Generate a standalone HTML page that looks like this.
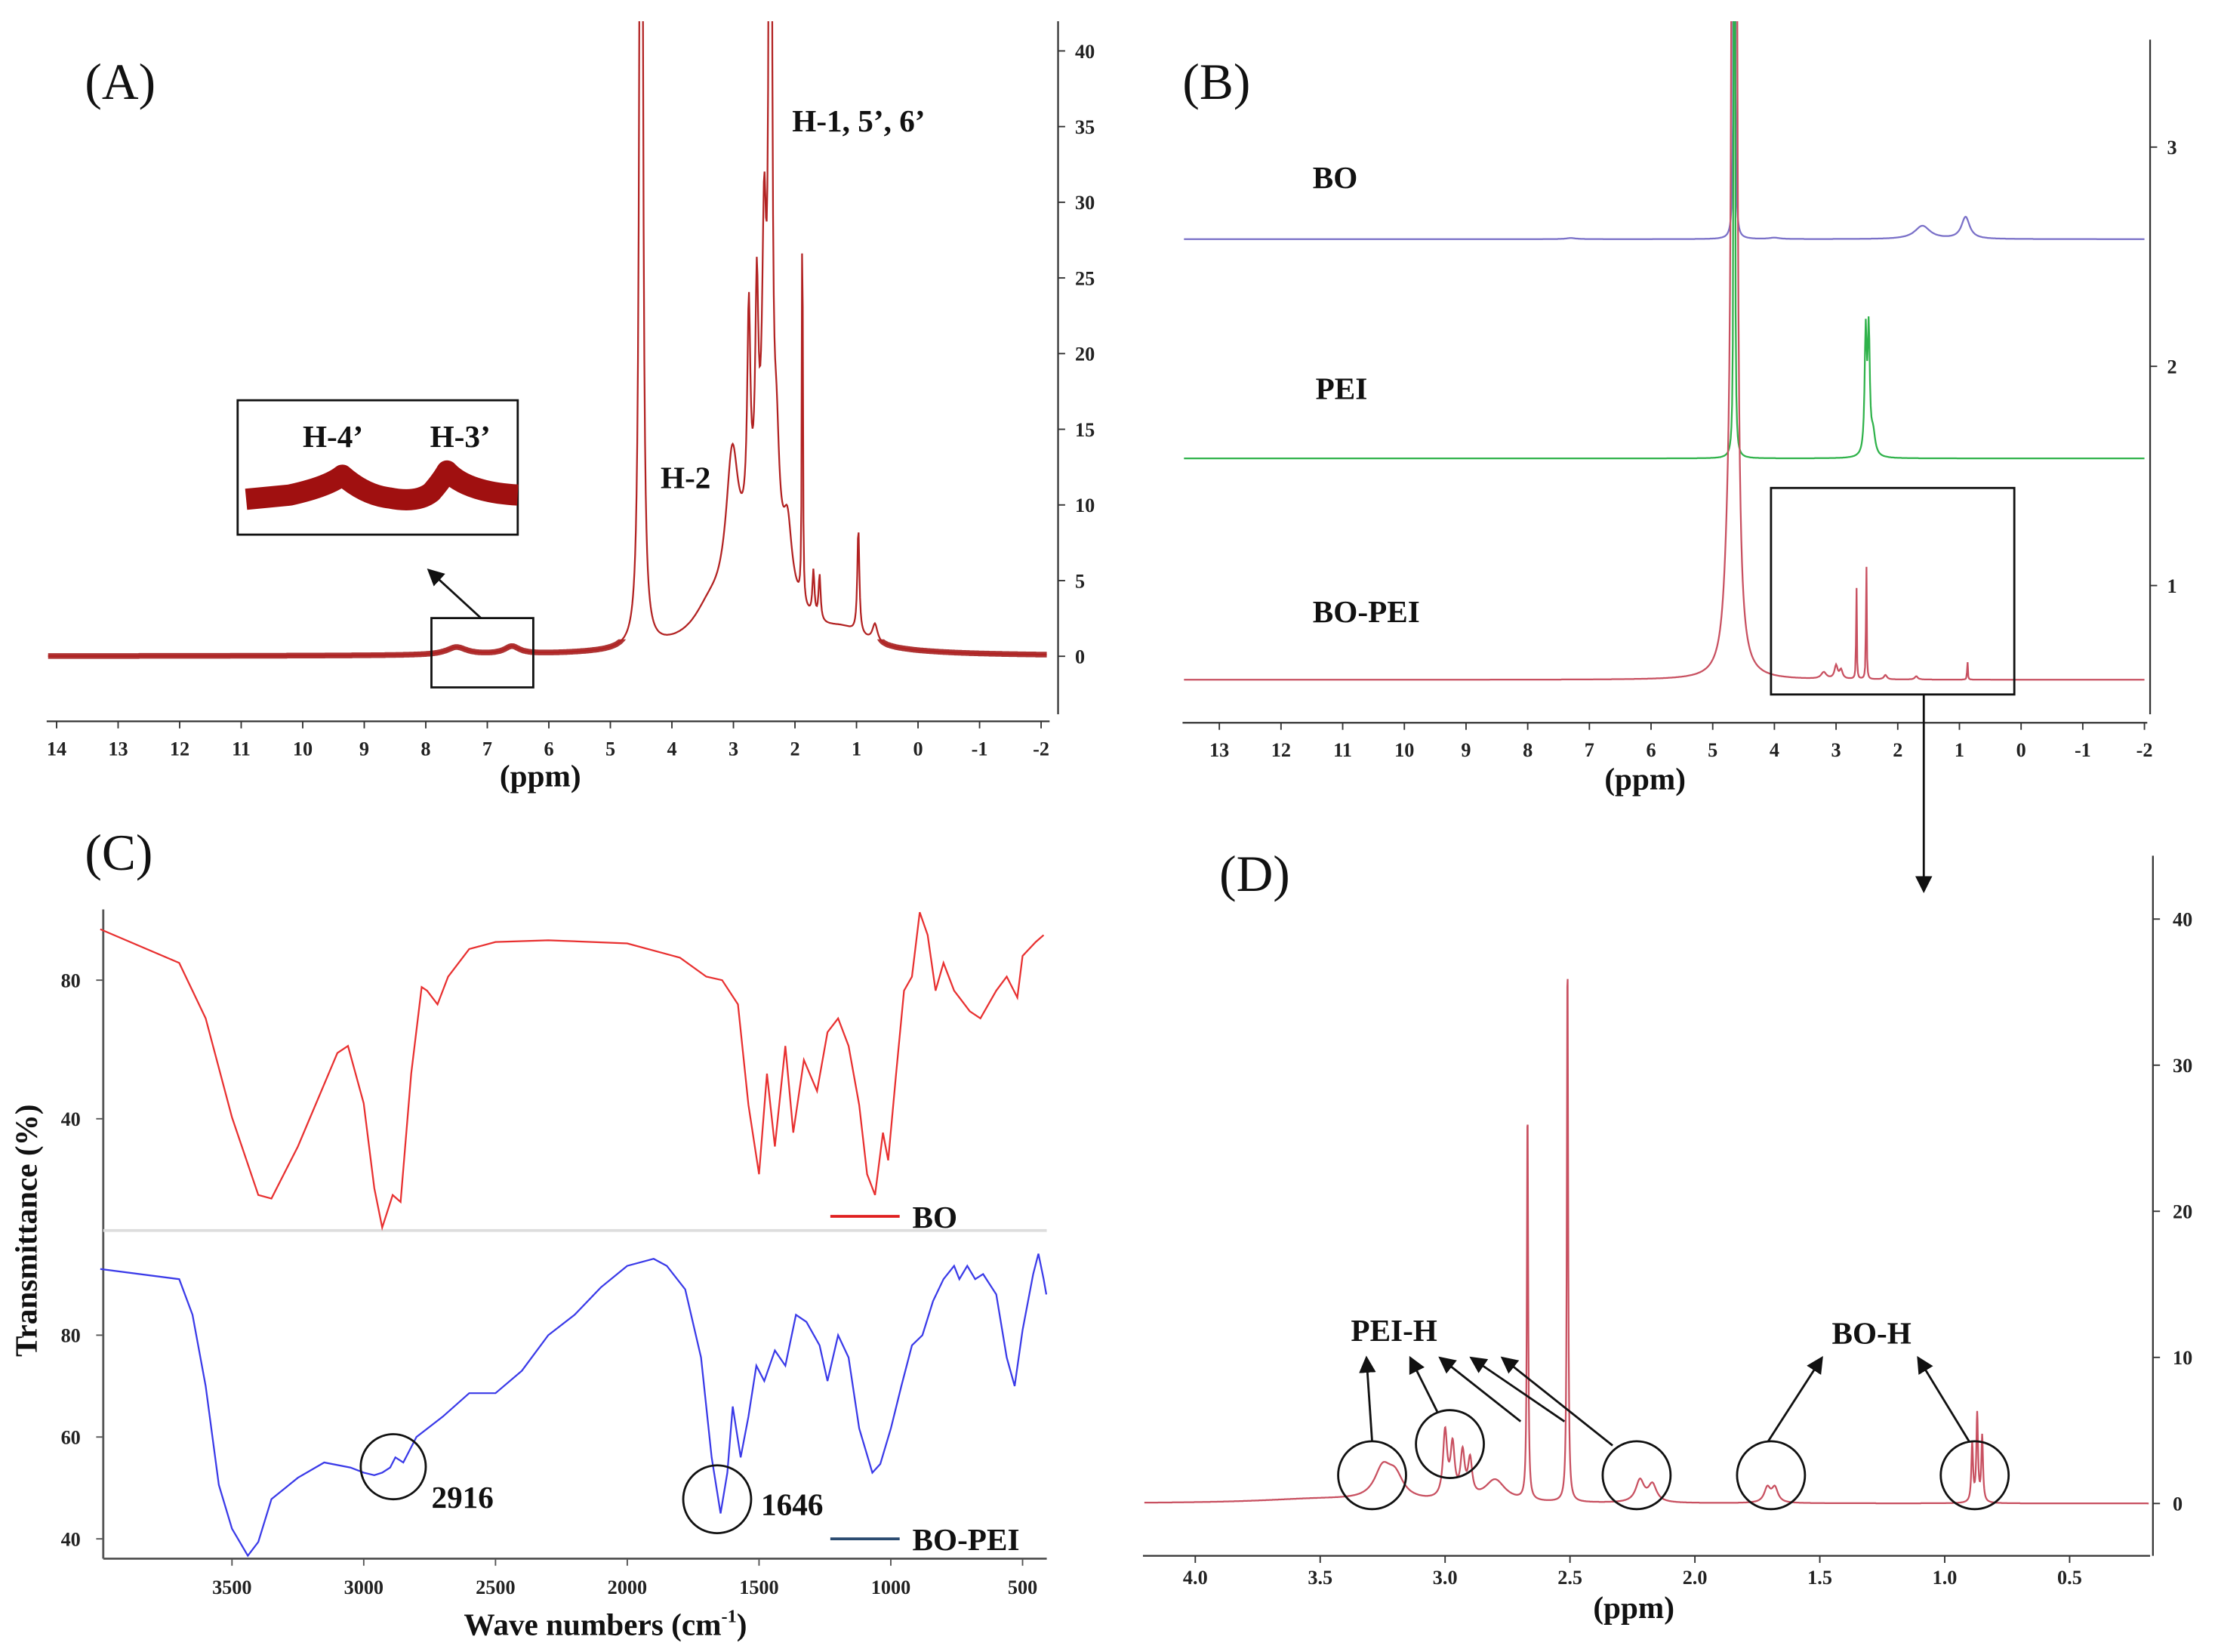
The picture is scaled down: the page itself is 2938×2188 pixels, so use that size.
<!DOCTYPE html>
<html><head><meta charset="utf-8"><style>
html,body{margin:0;padding:0;background:#fff;}
svg{display:block;}
text{font-family:"Liberation Serif",serif;}
.t{font-weight:bold;font-size:14px;fill:#222;}
.lb{font-weight:bold;font-size:22px;fill:#111;}
.pl{font-size:36px;fill:#111;}
</style></head><body>
<svg id="fig" width="2938" height="2188" viewBox="0 0 1568 1168" preserveAspectRatio="none" xmlns="http://www.w3.org/2000/svg">
<defs>
<clipPath id="clipA"><rect x="30" y="15" width="720" height="495"/></clipPath>
<clipPath id="clipBand"><rect x="30" y="452" width="720" height="26"/></clipPath>
<clipPath id="clipB"><rect x="836" y="15" width="684" height="495"/></clipPath>
<clipPath id="clipD"><rect x="808" y="600" width="714" height="500"/></clipPath>
<marker id="ah" markerWidth="8" markerHeight="8" refX="7" refY="4" orient="auto"><path d="M0,0 L8,4 L0,8 z" fill="#111"/></marker>
</defs>
<g id="gA"></g>
<g id="gB"></g>
<g id="gC"></g>
<g id="gD"></g>

<text class="pl" x="60" y="70">(A)</text>
<text class="pl" x="836" y="70">(B)</text>
<text class="pl" x="60" y="615">(C)</text>
<text class="pl" x="862" y="630">(D)</text>

<text class="lb" x="560" y="93">H-1, 5’, 6’</text>
<text class="lb" x="467" y="345">H-2</text>
<rect x="168" y="283" width="198" height="95" fill="none" stroke="#111" stroke-width="1.5"/>
<text class="lb" x="214" y="316">H-4’</text>
<text class="lb" x="304" y="316">H-3’</text>
<path d="M174,353 L205,350 Q232,344 242,336 Q258,350 275,352 Q295,356 305,348 Q312,340 316,333 Q330,348 366,350" fill="none" stroke="#a01010" stroke-width="15" stroke-linejoin="round"/>
<rect x="305" y="437" width="72" height="49" fill="none" stroke="#111" stroke-width="1.5"/>
<line x1="340" y1="437" x2="303" y2="403" stroke="#111" stroke-width="1.5" marker-end="url(#ah)"/>

<text class="lb" x="928" y="133">BO</text>
<text class="lb" x="930" y="282">PEI</text>
<text class="lb" x="928" y="440">BO-PEI</text>
<rect x="1252" y="345" width="172" height="146" fill="none" stroke="#111" stroke-width="1.5"/>
<line x1="1360" y1="491" x2="1360" y2="630" stroke="#111" stroke-width="1.5" marker-end="url(#ah)"/>

<line x1="587" y1="860" x2="636" y2="860" stroke="#e02020" stroke-width="2"/>
<text class="lb" x="645" y="868">BO</text>
<line x1="587" y1="1088" x2="636" y2="1088" stroke="#2a4a70" stroke-width="2"/>
<text class="lb" x="645" y="1096">BO-PEI</text>
<circle cx="278" cy="1037" r="23" fill="none" stroke="#111" stroke-width="1.5"/>
<circle cx="507" cy="1060" r="24" fill="none" stroke="#111" stroke-width="1.5"/>
<text class="lb" x="305" y="1066" font-size="20">2916</text>
<text class="lb" x="538" y="1071" font-size="20">1646</text>
<text class="lb" transform="translate(26,870) rotate(-90)" text-anchor="middle" font-size="23">Transmittance  (%)</text>
<text class="lb" x="428" y="1156" text-anchor="middle">Wave numbers (cm<tspan font-size="13" dy="-9">-1</tspan><tspan dy="9">)</tspan></text>

<text class="lb" x="382" y="556" text-anchor="middle">(ppm)</text>
<text class="lb" x="1163" y="558" text-anchor="middle">(ppm)</text>
<text class="lb" x="1155" y="1144" text-anchor="middle">(ppm)</text>

<g fill="none" stroke="#111" stroke-width="1.5">
<circle cx="970" cy="1043" r="24"/><circle cx="1025" cy="1021" r="24"/><circle cx="1157" cy="1043" r="24"/><circle cx="1252" cy="1043" r="24"/><circle cx="1396" cy="1043" r="24"/>
<line x1="970" y1="1019" x2="966" y2="960" marker-end="url(#ah)"/>
<line x1="1016" y1="998" x2="997" y2="960" marker-end="url(#ah)"/>
<line x1="1075" y1="1005" x2="1018" y2="960" marker-end="url(#ah)"/>
<line x1="1106" y1="1005" x2="1040" y2="960" marker-end="url(#ah)"/>
<line x1="1140" y1="1022" x2="1062" y2="960" marker-end="url(#ah)"/>
<line x1="1250" y1="1019" x2="1288" y2="960" marker-end="url(#ah)"/>
<line x1="1392" y1="1019" x2="1356" y2="960" marker-end="url(#ah)"/>
</g>
<text class="lb" x="955" y="948">PEI-H</text>
<text class="lb" x="1295" y="950">BO-H</text>
</svg>
<script>
const aPeakPpm =   [4.50, 3.02, 2.75, 2.62, 2.50, 2.40, 2.30, 2.12, 1.88, 1.70, 1.60, 0.97, 0.70, 1.20, 3.40, 2.55, 7.5, 6.6];
const aPeakHeight =[100,  9,    14,   14,   18,   100,  6,    4,    32,   3,    3,    7,    1.2,  1.0,  1.5,  8,    0.5, 0.5];
const aPeakWidth = [0.025,0.12, 0.03, 0.03, 0.04, 0.02, 0.05, 0.08, 0.008,0.02, 0.02, 0.02, 0.05, 0.4,  0.3,  0.45, 0.2, 0.15];
const aTicksX = [14,13,12,11,10,9,8,7,6,5,4,3,2,1,0,-1,-2];
const aTicksY = [0,5,10,15,20,25,30,35,40];
const boPpm = [4.65, 1.60, 0.90, 7.3, 4.0];
const boH =   [20,   0.06, 0.10, 0.005, 0.006];
const boW =   [0.004,0.15, 0.08, 0.1, 0.1];
const peiPpm = [4.65, 2.52, 2.47, 2.40];
const peiH =   [20,   0.55, 0.55, 0.1];
const peiW =   [0.004,0.02, 0.02, 0.04];
const bopPpm = [4.65, 4.75, 3.20, 3.00, 2.92, 2.67, 2.51, 2.20, 1.70, 0.87];
const bopH =   [20,   0.3,  0.03, 0.06, 0.04, 0.49, 0.65, 0.02, 0.015, 0.1];
const bopW =   [0.02, 0.08, 0.05, 0.03, 0.03, 0.006,0.006,0.03, 0.03, 0.006];
const bOffsets = [2.58, 1.58, 0.57];
const bTicksX = [13,12,11,10,9,8,7,6,5,4,3,2,1,0,-1,-2];
const bTicksY = [1,2,3];
const boWn = [4000,3700,3600,3500,3400,3350,3250,3100,3060,3000,2960,2930,2890,2860,2820,2780,2760,2720,2680,2600,2500,2300,2000,1800,1700,1640,1580,1540,1500,1470,1440,1400,1370,1330,1280,1240,1200,1160,1120,1090,1060,1030,1010,980,950,920,890,860,830,800,760,700,660,600,560,520,500,450,420];
const boT =  [94.7,85,69,40.4,18,17,32,59,61,44.5,20,8.6,18,16,53,78,77,73,81,89,91,91.5,90.6,86.5,81,80,73,44,24,53,32,61,36,57,48,65,69,61,44,24,18,36,28,53,77,81,99.6,93,77,85,77,71,69,77,81,75,87,91,93];
const bopWn = [4000,3700,3650,3600,3550,3500,3440,3400,3350,3250,3150,3050,3000,2960,2930,2900,2880,2850,2800,2700,2600,2500,2400,2300,2200,2100,2000,1900,1850,1780,1720,1680,1646,1620,1600,1570,1540,1510,1480,1440,1400,1360,1320,1270,1240,1200,1160,1120,1070,1040,1000,960,920,880,840,800,760,740,710,680,650,600,560,530,500,460,440,420,410];
const bopT =  [93,91,84,70,50.6,42,36.7,39.4,47.8,52,55,54,53,52.5,53,54,56,55,60,64,68.6,68.6,73,80,84,89.4,93.6,95,93.6,89,75.6,56,45,53,66,56,64,74,71,77,74,84,82.6,78,71,80,75.6,61.7,53,54.7,61.7,70,78,80,86.7,91,93.6,91,93.6,91,92,88,75.6,70,81,92,96,91,88];
const cTicksX = [3500,3000,2500,2000,1500,1000,500];
const cTicksTop = [40,80];
const cTicksBot = [40,60,80];
const dPpm = [3.25,3.20,3.00,2.97,2.93,2.90,2.80,2.67,2.51,2.22,2.17,1.71,1.68,0.89,0.87,0.85,3.5];
const dH =   [2.0, 1.5, 4.5, 3.5, 3.0, 2.5, 1.5, 27,  37.5,1.5, 1.2, 1.0, 1.0, 4.0, 6.0, 4.5, 0.3];
const dW =   [0.04,0.04,0.01,0.01,0.01,0.01,0.05,0.003,0.003,0.02,0.02,0.015,0.015,0.004,0.004,0.004,0.3];
const dTicksX = [4.0,3.5,3.0,2.5,2.0,1.5,1.0,0.5];
const dTicksY = [0,10,20,30,40];

const NS = "http://www.w3.org/2000/svg";
function mk(tag, attrs, parent){const e=document.createElementNS(NS,tag);for(const k in attrs)e.setAttribute(k,attrs[k]);parent.appendChild(e);return e;}
function spec(ppm, P, H, W){let s=0;for(let i=0;i<P.length;i++){const d=(ppm-P[i])/W[i];s+=H[i]/(1+d*d);}return s;}
function txt(parent,x,y,s,anchor){const t=mk('text',{x:x,y:y,'class':'t','text-anchor':anchor||'middle'},parent);t.textContent=s;return t;}

(function(){
const g=document.getElementById('gA');
const xA=p=>40+(14-p)*43.5, yA=v=>464-v*10.7;
const ax=mk('line',{x1:33,y1:510,x2:742,y2:510,stroke:'#333','stroke-width':1.2},g);


const ay=mk('line',{x1:748,y1:15,x2:748,y2:505,stroke:'#333','stroke-width':1.2},g);


aTicksX.forEach(v=>{mk('line',{x1:xA(v),y1:510,x2:xA(v),y2:515,stroke:'#333'},g);const t=txt(g,xA(v),534,v);});
aTicksY.forEach(v=>{mk('line',{x1:748,y1:yA(v),x2:753,y2:yA(v),stroke:'#333'},g);const t=txt(g,760,yA(v)+5,v,'start');});
let d='';for(let px=34;px<=740;px+=0.5){const p=14-(px-40)/43.5;d+=(d?'L':'M')+px+','+yA(spec(p,aPeakPpm,aPeakHeight,aPeakWidth)).toFixed(1);}
const band=mk('path',{d:d,fill:'none',stroke:'#a01010','stroke-width':4,opacity:0.85,'clip-path':'url(#clipBand)'},g);


const path=mk('path',{d:d,fill:'none',stroke:'#b22222','stroke-width':1.2,'clip-path':'url(#clipA)'},g);


})();

(function(){
const g=document.getElementById('gB');
const xB=p=>862+(13-p)*43.6, yB=v=>414-(v-1)*155;
const ax=mk('line',{x1:836,y1:511,x2:1518,y2:511,stroke:'#333','stroke-width':1.2},g);


const ay=mk('line',{x1:1520,y1:28,x2:1520,y2:505,stroke:'#333','stroke-width':1.2},g);


bTicksX.forEach(v=>{mk('line',{x1:xB(v),y1:511,x2:xB(v),y2:516,stroke:'#333'},g);const t=txt(g,xB(v),535,v);});
bTicksY.forEach(v=>{mk('line',{x1:1520,y1:yB(v),x2:1525,y2:yB(v),stroke:'#333'},g);const t=txt(g,1532,yB(v)+5,v,'start');});
const sets=[[boPpm,boH,boW,'#7a70c8','trace-bo'],[peiPpm,peiH,peiW,'#2fb24a','trace-pei'],[bopPpm,bopH,bopW,'#c85060','trace-bo-pei']];
sets.forEach((s,i)=>{let d='';for(let px=837;px<=1516;px+=0.5){const p=13-(px-862)/43.6;d+=(d?'L':'M')+px+','+yB(bOffsets[i]+spec(p,s[0],s[1],s[2])).toFixed(1);}
const path=mk('path',{d:d,fill:'none',stroke:s[3],'stroke-width':1.2,'clip-path':'url(#clipB)'},g);

});
})();

(function(){
const g=document.getElementById('gC');
const xC=w=>164+(3500-w)*0.1863;
const yTop=v=>693-(v-80)*2.45, yBot=v=>944-(v-80)*3.6;
const ax=mk('line',{x1:73,y1:1102,x2:740,y2:1102,stroke:'#555','stroke-width':1.5},g);


const ay=mk('line',{x1:73,y1:643,x2:73,y2:1102,stroke:'#555','stroke-width':1.5},g);


const dv=mk('line',{x1:73,y1:870,x2:740,y2:870,stroke:'#ddd','stroke-width':2},g);


cTicksX.forEach(v=>{mk('line',{x1:xC(v),y1:1102,x2:xC(v),y2:1107,stroke:'#555'},g);const t=txt(g,xC(v),1127,v);});
cTicksTop.forEach(v=>{mk('line',{x1:68,y1:yTop(v),x2:73,y2:yTop(v),stroke:'#555'},g);const t=txt(g,50,yTop(v)+5,v);});
cTicksBot.forEach(v=>{mk('line',{x1:68,y1:yBot(v),x2:73,y2:yBot(v),stroke:'#555'},g);const t=txt(g,50,yBot(v)+5,v);});
function poly(W,T,fy){return W.map((w,i)=>(i?'L':'M')+xC(w).toFixed(1)+','+fy(T[i]).toFixed(1)).join('');}
const r=mk('path',{d:poly(boWn,boT,yTop),fill:'none',stroke:'#e83030','stroke-width':1.2},g);


const b=mk('path',{d:poly(bopWn,bopT,yBot),fill:'none',stroke:'#3a3ae8','stroke-width':1.2},g);


})();

(function(){
const g=document.getElementById('gD');
const xD=p=>845+(4.0-p)*176.6, yD=v=>1063-v*10.33;
const ax=mk('line',{x1:808,y1:1100,x2:1520,y2:1100,stroke:'#333','stroke-width':1.2},g);


const ay=mk('line',{x1:1522,y1:605,x2:1522,y2:1100,stroke:'#333','stroke-width':1.2},g);


dTicksX.forEach(v=>{mk('line',{x1:xD(v),y1:1100,x2:xD(v),y2:1105,stroke:'#333'},g);const t=txt(g,xD(v),1120,v.toFixed(1));});
dTicksY.forEach(v=>{mk('line',{x1:1522,y1:yD(v),x2:1527,y2:yD(v),stroke:'#333'},g);const t=txt(g,1536,yD(v)+5,v,'start');});
let d='';for(let px=809;px<=1519;px+=0.25){const p=4.0-(px-845)/176.6;d+=(d?'L':'M')+px+','+yD(spec(p,dPpm,dH,dW)).toFixed(1);}
const path=mk('path',{d:d,fill:'none',stroke:'#c85060','stroke-width':1.2,'clip-path':'url(#clipD)'},g);


})();
</script>
</body></html>
